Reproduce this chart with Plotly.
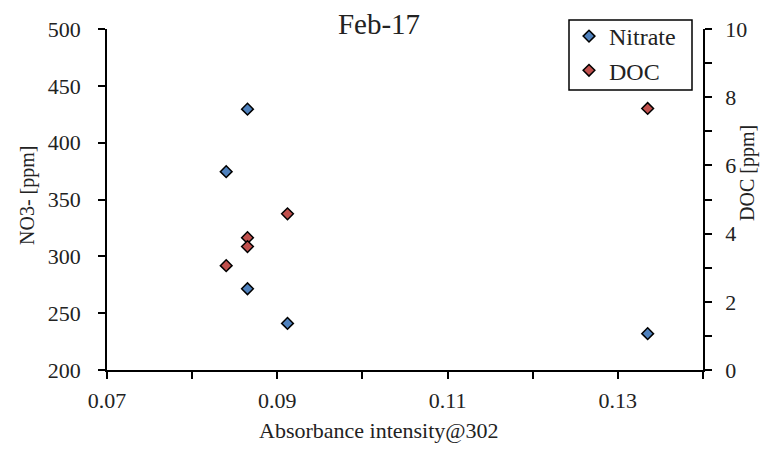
import plotly.graph_objects as go

# Data
nitrate_x = [0.0865, 0.0840, 0.0865, 0.0912, 0.1335]
nitrate_y = [429.5, 374.5, 271.5, 241.0, 232.0]
doc_x = [0.0912, 0.0865, 0.0865, 0.0840, 0.1335]
doc_y = [4.58, 3.88, 3.62, 3.06, 7.67]

x_ticks = [0.07, 0.08, 0.09, 0.10, 0.11, 0.12, 0.13, 0.14]
x_ticktext = ["0.07", "", "0.09", "", "0.11", "", "0.13", ""]
y_ticks = [200, 250, 300, 350, 400, 450, 500]
y2_ticks = [0, 1, 2, 3, 4, 5, 6, 7, 8, 9, 10]
y2_ticktext = ["0", "", "2", "", "4", "", "6", "", "8", "", "10"]

FONT = "Liberation Serif"
OFF = 8                      # default page body margin in the browser
W, H = 771 - OFF, 453 - OFF  # figure size so it fits the window
# plot area in page pixels: x 107..703, y 29..370
PX0, PX1, PY0, PY1 = 107, 703, 29, 370
L, T = PX0 - OFF, PY0 - OFF
R, B = 771 - PX1, 453 - PY1
PW, PH = PX1 - PX0, PY1 - PY0


def px(xp):
    return (xp - PX0) / PW


def py(yp):
    return (PY1 - yp) / PH


fig = go.Figure()
fig.add_trace(go.Scatter(
    x=nitrate_x, y=nitrate_y, mode="markers", name="Nitrate",
    marker=dict(symbol="diamond", size=9, color="#4F81BD",
                line=dict(color="black", width=1.5)),
))
fig.add_trace(go.Scatter(
    x=doc_x, y=doc_y, mode="markers", name="DOC", yaxis="y2",
    marker=dict(symbol="diamond", size=9, color="#C0504D",
                line=dict(color="black", width=1.5)),
))

axis_common = dict(showgrid=False, zeroline=False, showline=True,
                   linecolor="black", linewidth=1.5, ticks="outside",
                   ticklen=7, tickwidth=1.5, tickcolor="black",
                   automargin=False,
                   tickfont=dict(family=FONT, size=22, color="#222"))

fig.update_layout(
    width=W, height=H,
    margin=dict(l=L, r=R, t=T, b=B, autoexpand=False),
    plot_bgcolor="white", paper_bgcolor="white",
    font=dict(family=FONT, color="#222"),
    title=dict(text="Feb-17", x=(379 - OFF) / W, xanchor="center",
               y=1 - (24 - OFF) / H, yanchor="middle",
               font=dict(family=FONT, size=29, color="#222")),
    xaxis=dict(range=[0.07, 0.14], tickmode="array", tickvals=x_ticks,
               ticktext=x_ticktext, ticklabelstandoff=3, **axis_common),
    yaxis=dict(range=[200, 500], tickmode="array", tickvals=y_ticks,
               ticklabelstandoff=13, **axis_common),
    yaxis2=dict(range=[0, 10], overlaying="y", side="right",
                tickmode="array", tickvals=y2_ticks, ticktext=y2_ticktext,
                ticklabelstandoff=9, **axis_common),
    legend=dict(x=px(569), y=py(14), xanchor="left", yanchor="top",
                borderwidth=0, bgcolor="rgba(0,0,0,0)",
                tracegroupgap=0,
                font=dict(family=FONT, size=24, color="#222")),
    showlegend=True,
    shapes=[dict(type="rect", xref="paper", yref="paper",
                 x0=px(569), x1=px(692), y0=py(90), y1=py(20),
                 line=dict(color="black", width=1.5),
                 fillcolor="white", layer="below")],
)

# Axis titles placed as in the reference
fig.add_annotation(text="Absorbance intensity@302", xref="paper", yref="paper",
                   x=px(379), y=py(430),
                   showarrow=False, xanchor="center", yanchor="middle",
                   font=dict(family=FONT, size=22, color="#222"))
fig.add_annotation(text="NO3- [ppm]", xref="paper", yref="paper",
                   x=px(27), y=py(196),
                   showarrow=False, textangle=-90, xanchor="center", yanchor="middle",
                   font=dict(family=FONT, size=20, color="#222"))
fig.add_annotation(text="DOC [ppm]", xref="paper", yref="paper",
                   x=px(748), y=py(173),
                   showarrow=False, textangle=-90, xanchor="center", yanchor="middle",
                   font=dict(family=FONT, size=20, color="#222"))

fig.write_html("out.html")
